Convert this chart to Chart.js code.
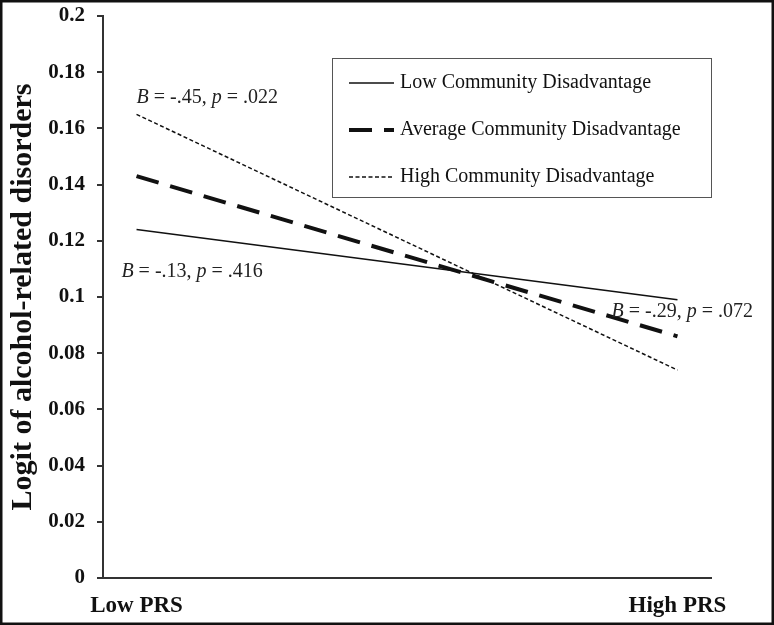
<!DOCTYPE html>
<html>
<head>
<meta charset="utf-8">
<script src="https://cdn.jsdelivr.net/npm/chart.js@4.4.0/dist/chart.umd.min.js"></script>
<style>
  html, body { margin: 0; padding: 0; background: #fff; }
  #wrap { position: relative; width: 774px; height: 625px; }
</style>
</head>
<body>
<div id="wrap"><canvas id="prsChart" width="774" height="625"></canvas></div>
<script>
const xLabels = ['Low PRS', 'High PRS'];
const seriesNames = ['Low Community Disadvantage', 'Average Community Disadvantage', 'High Community Disadvantage'];
const lowDisadv = [0.124, 0.099];
const avgDisadv = [0.143, 0.086];
const highDisadv = [0.165, 0.074];
const yTickLabels = ['0', '0.02', '0.04', '0.06', '0.08', '0.1', '0.12', '0.14', '0.16', '0.18', '0.2'];

// simple slope labels, anchored in data units
const slopeNotes = [
    { b: '-.45', p: '.022', x: 0, y: 0.171 },
    { b: '-.13', p: '.416', x: -0.028, y: 0.109 },
    { b: '-.29', p: '.072', x: 0.878, y: 0.0947 }
];

const SERIF = '"Liberation Serif", "Times New Roman", serif';
const INK = '#111';

const toPoints = arr => arr.map((v, i) => ({ x: i, y: v }));

// outer frame, legend box and the B/p notes
const extrasPlugin = {
    id: 'extras',
    afterDraw(chart) {
        const { ctx, chartArea, scales } = chart;
        ctx.save();

        // frame round the whole figure
        ctx.strokeStyle = INK;
        ctx.lineWidth = 2.5;
        ctx.strokeRect(1.25, 1.25, chart.width - 2.5, chart.height - 2.5);

        // legend box
        const w = 379, h = 139;
        const x0 = chartArea.right - w, y0 = chartArea.top + 42;
        ctx.fillStyle = '#fff';
        ctx.fillRect(x0, y0, w, h);
        ctx.strokeStyle = '#555';
        ctx.lineWidth = 1;
        ctx.strokeRect(x0 + 0.5, y0 + 0.5, w, h);
        chart.data.datasets.forEach((ds, i) => {
            const cy = y0 + 25 + i * 47;
            ctx.strokeStyle = ds.borderColor;
            ctx.lineWidth = ds.borderWidth;
            ctx.setLineDash(ds.borderDash || []);
            ctx.beginPath();
            ctx.moveTo(x0 + 17, cy);
            ctx.lineTo(x0 + 62, cy);
            ctx.stroke();
            ctx.setLineDash([]);
            ctx.fillStyle = INK;
            ctx.font = '20px ' + SERIF;
            ctx.textBaseline = 'middle';
            ctx.textAlign = 'left';
            ctx.fillText(ds.label, x0 + 68, cy);
        });

        // slope annotations with italic B and p
        ctx.fillStyle = '#222';
        ctx.textBaseline = 'middle';
        slopeNotes.forEach(n => {
            let px = scales.x.getPixelForValue(n.x);
            const py = scales.y.getPixelForValue(n.y);
            const parts = [
                ['italic', 'B'], ['normal', ' = ' + n.b + ', '],
                ['italic', 'p'], ['normal', ' = ' + n.p]
            ];
            parts.forEach(([style, txt]) => {
                ctx.font = (style === 'italic' ? 'italic ' : '') + '20px ' + SERIF;
                ctx.fillText(txt, px, py);
                px += ctx.measureText(txt).width;
            });
        });
        ctx.restore();
    }
};

new Chart(document.getElementById('prsChart'), {
    type: 'line',
    data: {
        datasets: [
            {
                label: seriesNames[0], data: toPoints(lowDisadv),
                borderColor: INK, borderWidth: 1.5, pointRadius: 0, fill: false
            },
            {
                label: seriesNames[1], data: toPoints(avgDisadv),
                borderColor: INK, borderWidth: 4, borderDash: [23, 12], pointRadius: 0, fill: false
            },
            {
                label: seriesNames[2], data: toPoints(highDisadv),
                borderColor: INK, borderWidth: 1.5, borderDash: [4, 2.5], pointRadius: 0, fill: false
            }
        ]
    },
    options: {
        responsive: false,
        animation: false,
        layout: { padding: { top: 16, right: 63, left: 0, bottom: 0 } },
        plugins: { legend: { display: false }, tooltip: { enabled: false } },
        scales: {
            x: {
                type: 'linear', min: -0.062, max: 1.062,
                afterBuildTicks: s => { s.ticks = xLabels.map((_, i) => ({ value: i })); },
                afterFit: s => { s.height = 47; s.paddingLeft = 0; s.paddingRight = 0; },
                grid: { display: false, drawTicks: false },
                border: { display: true, color: '#333', width: 2 },
                ticks: {
                    callback: (v, i) => xLabels[i],
                    font: { family: SERIF, size: 23, weight: 'bold' },
                    color: INK, padding: 14, maxRotation: 0, autoSkip: false
                }
            },
            y: {
                min: 0, max: 0.2,
                afterFit: s => { s.width = 103; s.paddingTop = 0; s.paddingBottom = 0; },
                grid: { drawOnChartArea: false, drawTicks: true, tickLength: 6, color: '#333', lineWidth: 2 },
                border: { display: true, color: '#333', width: 2 },
                ticks: {
                    stepSize: 0.02,
                    callback: (v, i) => yTickLabels[i],
                    font: { family: SERIF, size: 21, weight: 'bold' },
                    color: INK, padding: 12
                },
                title: {
                    display: true, text: 'Logit of alcohol-related disorders',
                    font: { family: SERIF, size: 30, weight: 'bold' },
                    color: INK, padding: { top: 5, bottom: 0 }
                }
            }
        }
    },
    plugins: [extrasPlugin]
});
</script>
</body>
</html>
